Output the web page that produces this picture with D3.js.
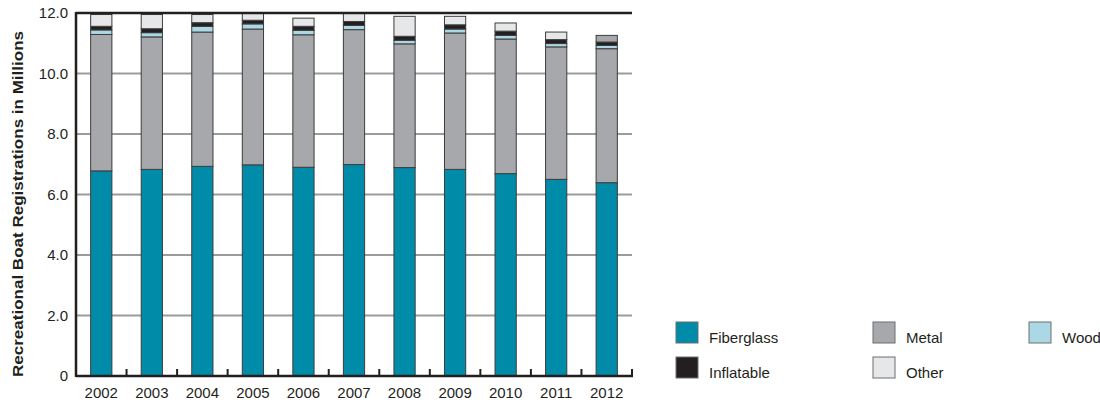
<!DOCTYPE html>
<head>
    <title>Recreational Boat Registrations</title>
</head>
<meta charset="utf-8">

<script src="https://d3js.org/d3.v7.min.js"></script>

<style>
  body { margin: 0; background: #fff; }
  text { font-family: "Liberation Sans", Arial, sans-serif; fill: #231f20; }
</style>

<div id="my_dataviz"></div>
<body>
    <script>

    // data, millions of registrations
    var years = ["2002","2003","2004","2005","2006","2007","2008","2009","2010","2011","2012"];
    var fiberglass = [6.78, 6.83, 6.93, 6.98, 6.90, 6.99, 6.89, 6.83, 6.69, 6.50, 6.39];
    var metal      = [4.51, 4.38, 4.44, 4.49, 4.38, 4.46, 4.09, 4.51, 4.45, 4.38, 4.43];
    var wood       = [0.15, 0.14, 0.19, 0.17, 0.15, 0.14, 0.12, 0.13, 0.12, 0.11, 0.11];
    var inflatable = [0.12, 0.13, 0.12, 0.12, 0.13, 0.13, 0.13, 0.14, 0.14, 0.13, 0.11];
    var other      = [0.39, 0.47, 0.27, 0.24, 0.27, 0.29, 0.66, 0.28, 0.27, 0.25, 0.22];
    var yTicks = [0, 2, 4, 6, 8, 10, 12];

    var keys = ["Fiberglass", "Metal", "Wood", "Inflatable", "Other"];
    var series = [fiberglass, metal, wood, inflatable, other];

    var color = d3.scaleOrdinal()
      .domain(keys)
      .range(["#008ca8", "#a7a8ab", "#acd8e6", "#231f20", "#e6e7e8"]);

    var width = 1100, height = 404;
    var plot = {left: 76, right: 632, top: 13, bottom: 376};

    var svg = d3.select("#my_dataviz")
      .append("svg")
        .attr("width", width)
        .attr("height", height);

    var data = years.map(function(yr, i) {
      var row = {year: yr};
      keys.forEach(function(k, j) { row[k] = series[j][i]; });
      return row;
    });

    var x = d3.scaleBand()
      .domain(years)
      .range([plot.left, plot.right])
      .paddingInner(0.58)
      .paddingOuter(0.29);

    var y = d3.scaleLinear()
      .domain([0, 12])
      .range([plot.bottom, plot.top]);

    // grid lines
    svg.selectAll("grid")
      .data(yTicks.filter(function(d){ return d > 0 && d < 12; }))
      .enter()
      .append("line")
        .attr("x1", plot.left).attr("x2", plot.right)
        .attr("y1", function(d){ return y(d); })
        .attr("y2", function(d){ return y(d); })
        .style("stroke", "#9a9b9d")
        .style("stroke-width", 2);

    var stacked = d3.stack().keys(keys)(data);

    svg.selectAll("layer")
      .data(stacked)
      .enter()
      .append("g")
        .attr("fill", function(d){ return color(d.key); })
      .selectAll("rect")
      .data(function(d){ return d.map(function(p){ p.key = d.key; return p; }); })
      .enter()
      .append("rect")
        .attr("x", function(d){ return x(d.data.year); })
        .attr("y", function(d){ return y(d[1]); })
        .attr("width", x.bandwidth())
        .attr("height", function(d){ return y(d[0]) - y(d[1]); })
        // 2012's top segment is printed in mid grey in the source
        .style("fill", function(d){ return (d.key == "Other" && d.data.year == "2012") ? color("Metal") : null; })
        .style("stroke", "#3c3c3c")
        .style("stroke-width", 1);

    // frame: left, top, bottom
    svg.append("line")
      .attr("x1", plot.left).attr("x2", plot.left)
      .attr("y1", plot.top - 1).attr("y2", plot.bottom + 1)
      .style("stroke", "#231f20").style("stroke-width", 2.5);
    svg.append("line")
      .attr("x1", plot.left).attr("x2", plot.right)
      .attr("y1", plot.top).attr("y2", plot.top)
      .style("stroke", "#231f20").style("stroke-width", 2.5);
    svg.append("line")
      .attr("x1", plot.left).attr("x2", plot.right + 1)
      .attr("y1", plot.bottom).attr("y2", plot.bottom)
      .style("stroke", "#231f20").style("stroke-width", 2.5);

    // category separators on the x axis
    var step = x.step();
    svg.selectAll("xtick")
      .data(years)
      .enter()
      .append("line")
        .attr("x1", function(d){ return x(d) - x.paddingOuter() * step + step; })
        .attr("x2", function(d){ return x(d) - x.paddingOuter() * step + step; })
        .attr("y1", plot.bottom)
        .attr("y2", plot.bottom - 7)
        .style("stroke", "#231f20").style("stroke-width", 2);

    // x labels
    svg.selectAll("xlab")
      .data(years)
      .enter()
      .append("text")
        .attr("x", function(d){ return x(d) + x.bandwidth() / 2; })
        .attr("y", 398)
        .attr("text-anchor", "middle")
        .style("font-size", "15px")
        .text(function(d){ return d; });

    // y labels
    svg.selectAll("ylab")
      .data(yTicks)
      .enter()
      .append("text")
        .attr("x", 68)
        .attr("y", function(d){ return y(d) + 5; })
        .attr("text-anchor", "end")
        .style("font-size", "15px")
        .text(function(d){ return d == 0 ? "0" : d.toFixed(1); });

    svg.append("text")
      .attr("transform", "translate(23,204) rotate(-90)")
      .attr("text-anchor", "middle")
      .attr("textLength", 346)
      .attr("lengthAdjust", "spacingAndGlyphs")
      .style("font-size", "15px")
      .style("font-weight", "bold")
      .text("Recreational Boat Registrations in Millions");

    // legend
    var legendPos = [
      {k: "Fiberglass", x: 676, y: 322},
      {k: "Metal", x: 873, y: 322},
      {k: "Wood", x: 1029, y: 322},
      {k: "Inflatable", x: 676, y: 357},
      {k: "Other", x: 873, y: 357}
    ];
    var lg = svg.selectAll("legend")
      .data(legendPos)
      .enter()
      .append("g")
        .attr("transform", function(d){ return "translate(" + d.x + "," + d.y + ")"; });
    lg.append("rect")
      .attr("width", 22).attr("height", 21)
      .style("fill", function(d){ return color(d.k); })
      .style("stroke", "#6d6e71").style("stroke-width", 1);
    lg.append("text")
      .attr("x", 33).attr("y", 21)
      .style("font-size", "15px")
      .text(function(d){ return d.k; });

</script>
</body>
